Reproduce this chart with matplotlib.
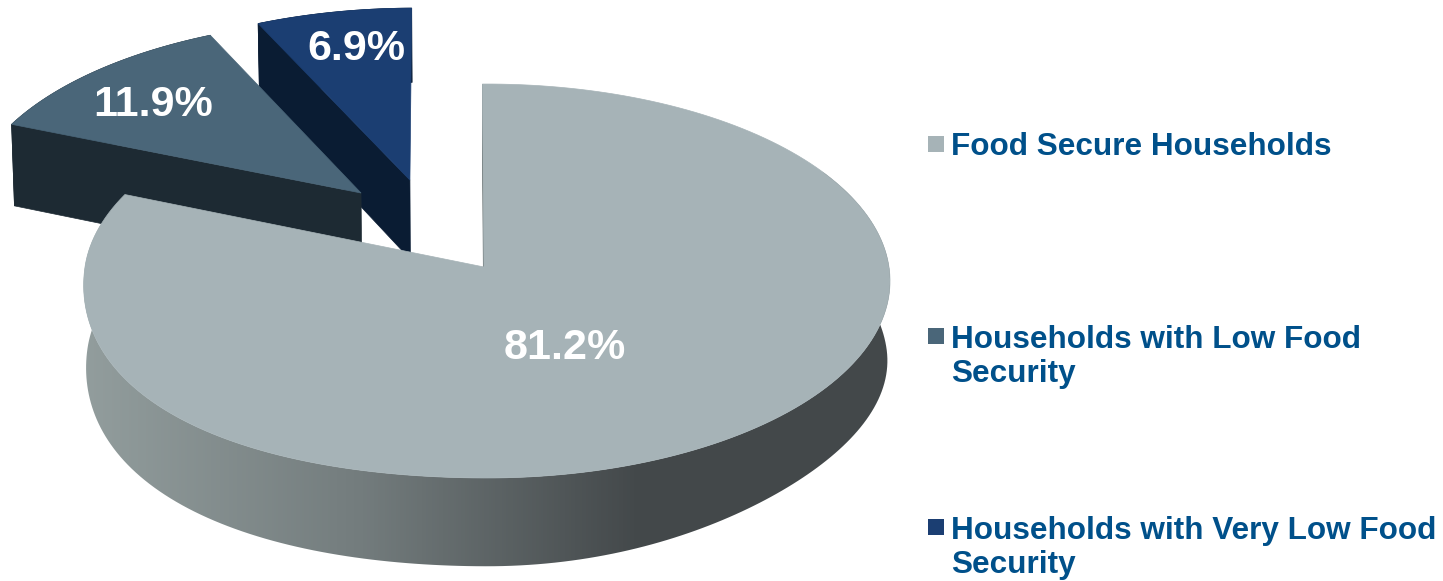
import numpy as np
import matplotlib
matplotlib.use('Agg')
import matplotlib.pyplot as plt
from matplotlib.colors import LinearSegmentedColormap
from matplotlib.patches import Polygon, Rectangle

plt.rcParams['font.family'] = ['Liberation Sans', 'DejaVu Sans']

values = [81.2, 11.9, 6.9]
labels = ['Food Secure Households', 'Households with Low Food\nSecurity', 'Households with Very Low Food\nSecurity']
value_labels = ['81.2%', '11.9%', '6.9%']
top_colors = ['#a6b3b7', '#4a6679', '#1b3e72']
side_colors = ['#6f797a', '#1d2a33', '#0a1c33']
explode = [(0.0, 0.0), (-0.322, 0.388), (-0.198, 0.458)]  # slice shift on the pie plane
apex_nudge = [-0.0075, 0.0, 0.0]
angle_fix = [(-0.7, 0.0), (0.0, -0.6), (-0.4, -0.5)]  # small corrections of the slice edges, degrees
depths = [82.0, 86.0, 82.0]
label_pos = [(565, 348), (153, 105), (356, 49)]
legend_y = [144, 336, 527]
legend_base = [155, 382, 573]

# perspective of the pie plane, in picture pixels
X0, KX, A, B, C = 487, 402, -177.0, 267.0, 0.0711


def project(u, v, z=0.0):
    w = C * v + 1
    x = X0 + KX * u * (1 - 0.006 * (z > 0)) / w
    y = (A * v + B + z) / w
    return np.column_stack([x, y])


def rim(t0, t1, shift, z=0.0, n=200, main=False):
    deg = np.linspace(t0, t1, n)
    t = np.radians(deg)
    r = np.ones_like(t)
    if main:
        # the real outline is not a clean ellipse on the front
        r = r + 0.03 * np.sin(2 * t) ** 2 * ((deg > 180) & (deg < 270))
        if z > 0:
            r = r - 0.03 * np.sin(2 * t) ** 2 * ((deg > 90) & (deg < 180))
    return project(shift[0] + r * np.sin(t), shift[1] + r * np.cos(t), z)


fig = plt.figure(figsize=(14.43, 5.81), dpi=100)
ax = fig.add_axes([0, 0, 1, 1])

ang = np.concatenate([[0], np.cumsum(values)]) * 3.6
order = [2, 1, 0]
for i in order:
    t0, t1 = ang[i] + angle_fix[i][0], ang[i + 1] + angle_fix[i][1]
    s = explode[i]
    d = depths[i]
    ux = np.array([s[0] + apex_nudge[i]])
    uy = np.array([s[1]])
    apex = project(ux, uy)
    apex_low = project(ux, uy, d)

    # radial face on the start side
    a = rim(t0, t0, s, 0.0, 1)
    b = rim(t0, t0, s, d, 1)
    ax.add_patch(Polygon(np.vstack([a, apex, apex_low, b]), fc=side_colors[i], ec=side_colors[i], lw=0.5))

    # outer side of the slice
    if i == 0:
        grad = np.clip((np.arange(0, 1443) - 85) / 555.0, 0, 1).reshape(1, -1)
        cmap = LinearSegmentedColormap.from_list('side', ['#929d9d', '#737c7d', '#43484a'])
        im = ax.imshow(grad, cmap=cmap, extent=(0, 1443, 581, 0), aspect='auto', vmin=0, vmax=1)
        p = Polygon(np.vstack([rim(60, t1, s, 0.0, main=True), rim(60, t1, s, d, main=True)[::-1]]),
                    fc='none', ec='none', transform=ax.transData)
        ax.add_patch(p)
        im.set_clip_path(p)
    else:
        ax.add_patch(Polygon(np.vstack([rim(t0, t1, s, 0.0), rim(t0, t1, s, d)[::-1]]), fc=side_colors[i],
                             ec=side_colors[i], lw=0.5))

    # top face
    ax.add_patch(Polygon(np.vstack([apex, rim(t0, t1, s, main=(i == 0))]), fc=top_colors[i], ec=top_colors[i], lw=0.5))

for i in range(3):
    ax.text(label_pos[i][0], label_pos[i][1], value_labels[i], color='white', fontsize=31, fontweight='bold',
            ha='center', va='center')
    ax.add_patch(Rectangle((928, legend_y[i] - 8), 16, 16, fc=top_colors[i], ec='none'))
    ax.text(951, legend_base[i], labels[i], color='#00508a', fontsize=22.7, fontweight='bold', ha='left',
            va='baseline', linespacing=1.17)

ax.set_xlim(0, 1443)
ax.set_ylim(581, 0)
ax.axis('off')
fig.savefig('out.png', dpi=100)
